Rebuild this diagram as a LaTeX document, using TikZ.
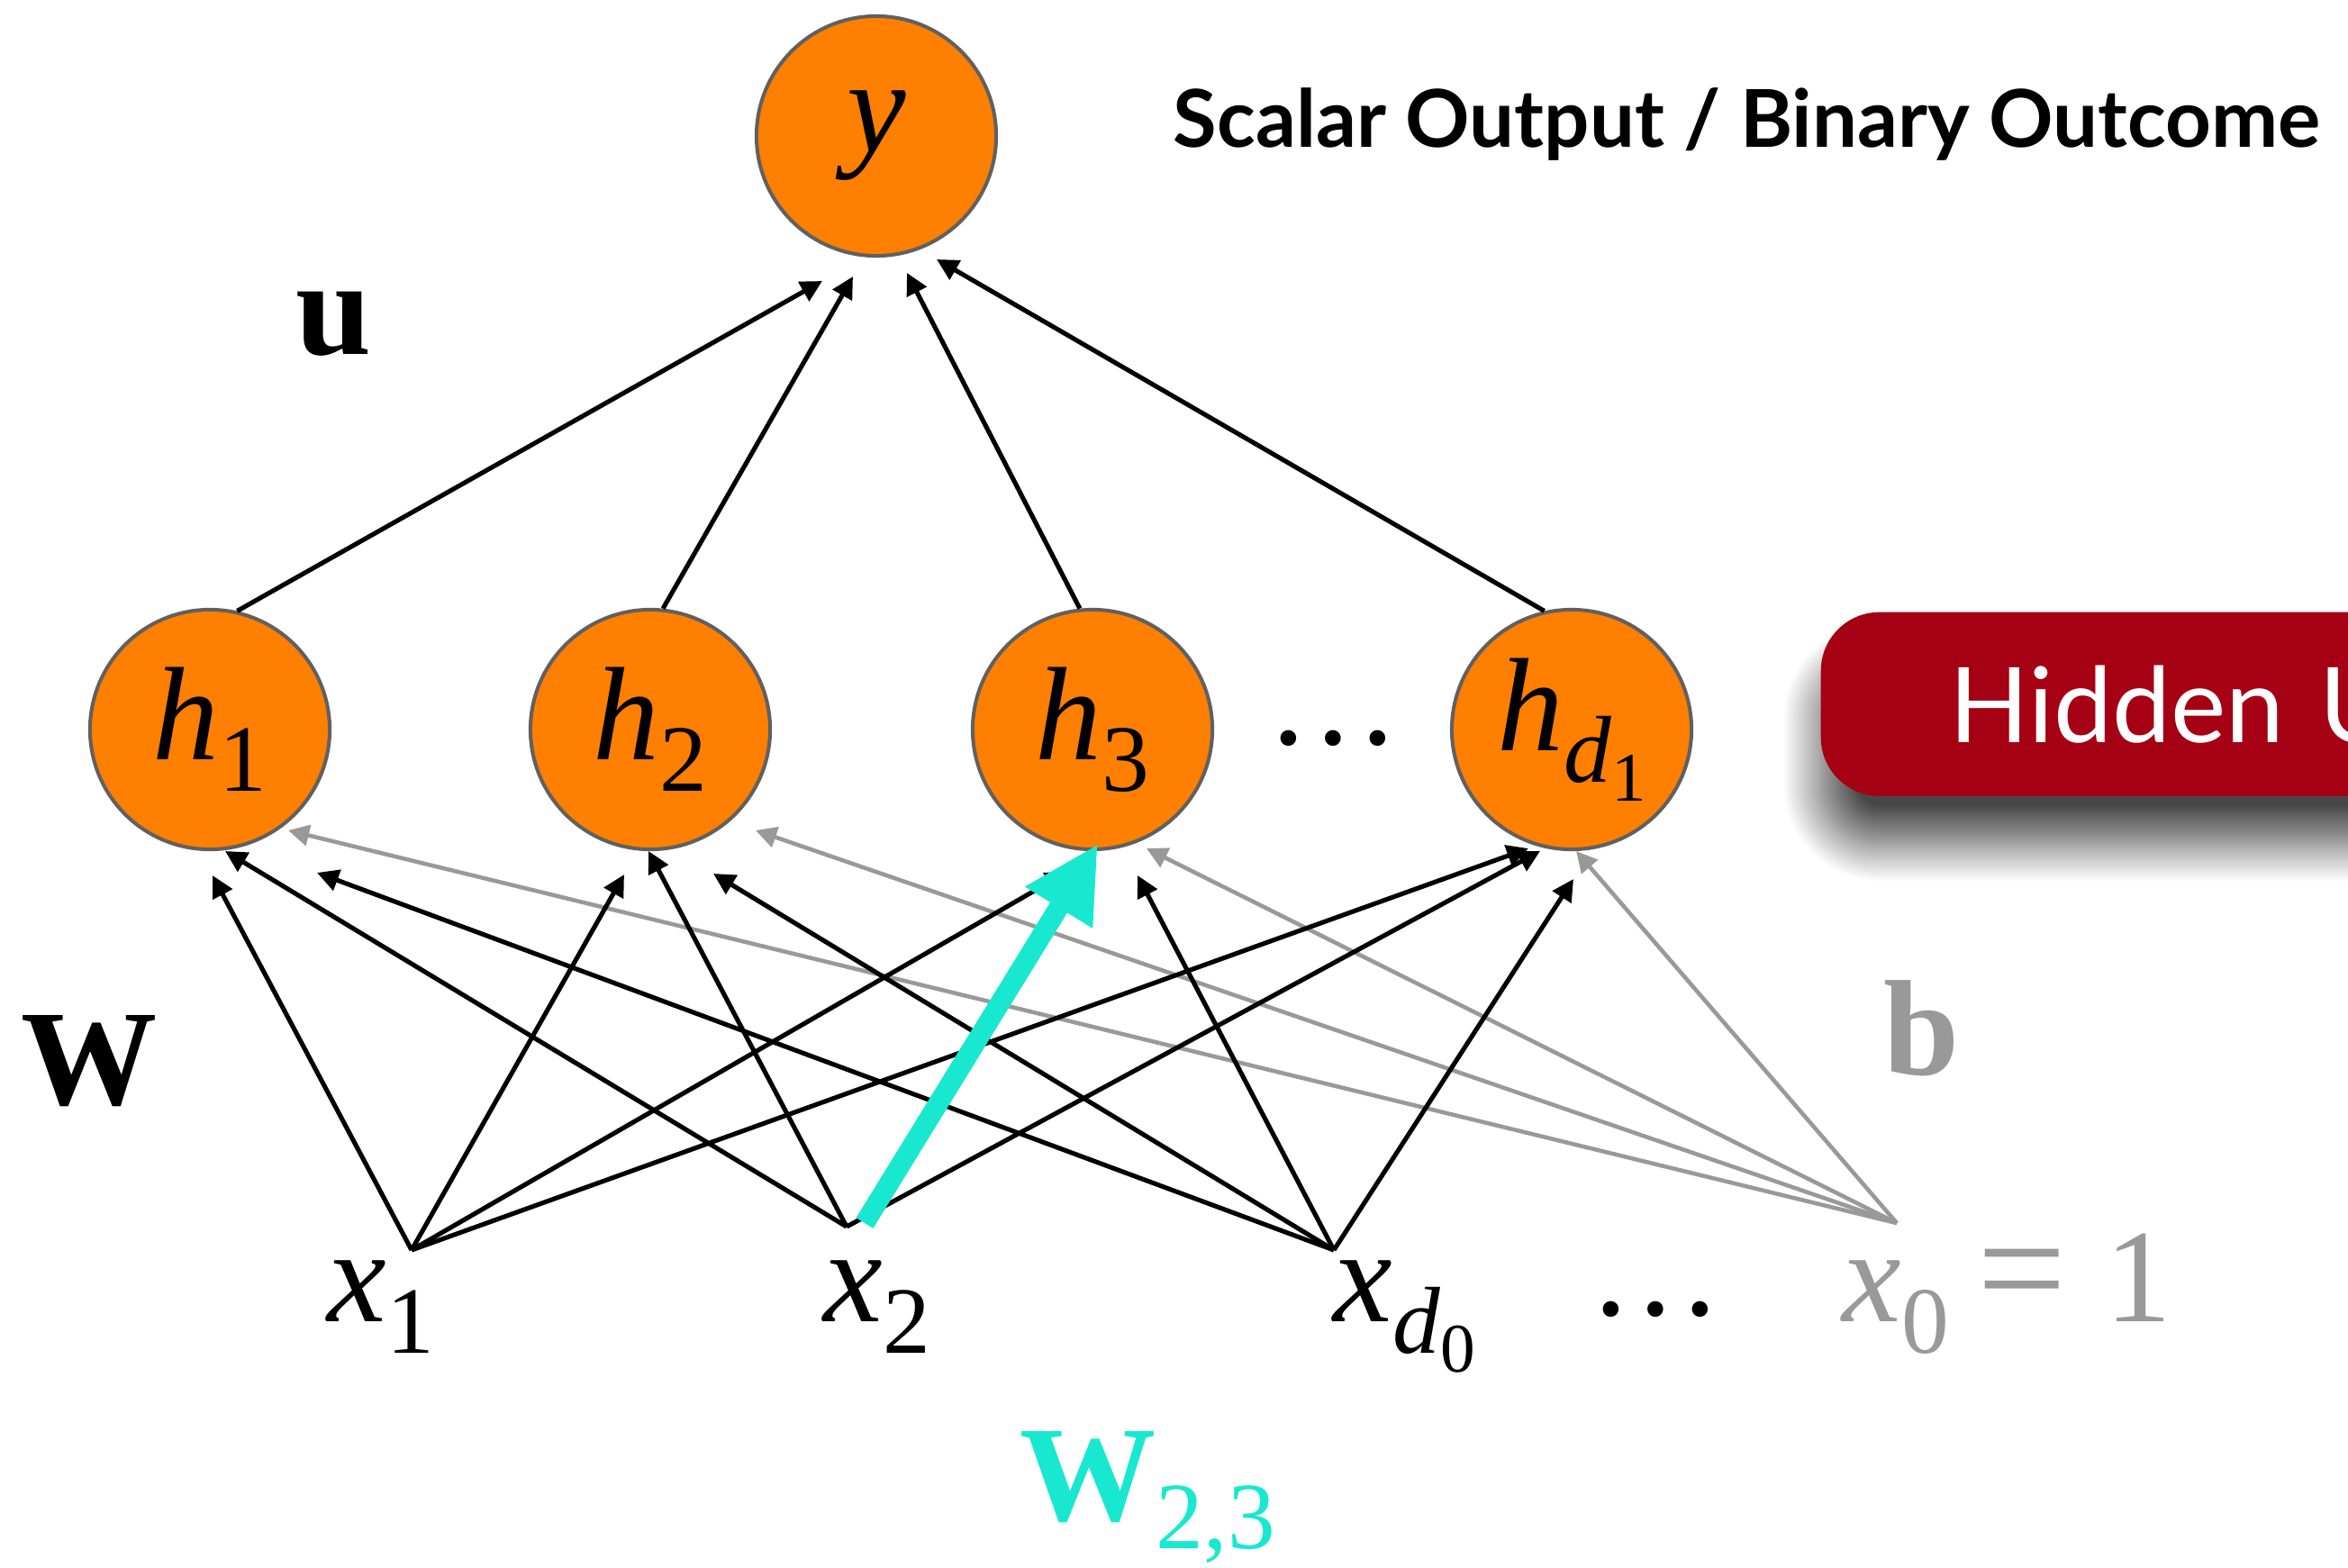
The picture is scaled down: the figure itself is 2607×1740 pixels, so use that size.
\documentclass[tikz,border=0pt]{standalone}
\usepackage{fontspec}
\setmainfont{Liberation Serif}
\newfontfamily\avenir{Lato}
\usetikzlibrary{calc,arrows.meta,shadows.blur}
\definecolor{nodeorange}{HTML}{FF7F00}
\definecolor{bordergray}{HTML}{606060}
\definecolor{biasgray}{HTML}{999999}
\definecolor{weightcyan}{HTML}{19E8D0}
\definecolor{boxred}{HTML}{A50013}
\newcommand\mylbl[2]{\textit{#1}\raisebox{-10pt}{\fontsize{30}{30}\selectfont #2}}
\newcommand\mylbldd[3]{\textit{#1}\raisebox{-10pt}{\fontsize{30}{30}\selectfont\textit{#2}\raisebox{-6pt}{\fontsize{22}{22}\selectfont #3}}}
\begin{document}
\begin{tikzpicture}[x=0.01cm,y=-0.01cm,
  neuron/.style={circle, fill=nodeorange, draw=bordergray, line width=1.15pt,
    minimum size=2.66cm, inner sep=0pt, font=\fontsize{42}{42}\selectfont},
  arr/.style={line width=1.45pt, -{Triangle[length=6.8pt,width=6.8pt]}},
  garr/.style={line width=1.3pt, draw=biasgray, -{Triangle[length=6.6pt,width=6.6pt]}},
  bigsym/.style={font=\fontsize{43}{43}\selectfont\bfseries, inner sep=0pt, anchor=base west},
  xlbl/.style={font=\fontsize{42}{42}\selectfont, inner sep=0pt, anchor=base west}
]
\useasboundingbox (0,0) rectangle (2607,1740);
\clip (0,0) rectangle (2607,1740);

% hidden units box (cut off by the right edge, as in the original)
\node (hidden) [fill=boxred, rounded corners=18.5pt, anchor=north west,
  minimum height=2.04cm, text width=9cm, inner xsep=1.43cm, inner ysep=0pt, align=left,
  text=white, font=\avenir\fontsize{33}{33}\selectfont,
  blur shadow={shadow xshift=0pt, shadow yshift=-15pt, shadow blur radius=12pt,
    shadow opacity=72, shadow blur steps=40}]
  at (2021,679) {Hidden Units};

% nodes
\node[neuron] (y) at (973,151) {\textit{y}\hspace{10pt}};
\node[neuron] (h1) at (233,810) {\mylbl{h}{1}};
\node[neuron] (h2) at (722,810) {\mylbl{h}{2}};
\node[neuron] (h3) at (1213,810) {\mylbl{h}{3}};
\node[neuron] (hd) at (1745,810) {\mylbldd{h}{d}{1}};
\node[font=\fontsize{42}{42}\selectfont, inner sep=0pt, anchor=base] (hdots) at (1480,826) {\textellipsis};

\coordinate (x1) at (457,1388);
\coordinate (x2) at (940,1362);
\coordinate (xd) at (1481,1388);
\coordinate (x0) at (2106,1358);

% labels
\node[xlbl] (lx1) at (363,1467) {\mylbl{x}{1}};
\node[xlbl] (lx2) at (914,1467) {\mylbl{x}{2}};
\node[xlbl] (lxd) at (1480,1467) {\mylbldd{x}{d}{0}};
\node[font=\fontsize{42}{42}\selectfont, inner sep=0pt, anchor=base] (xdots) at (1838,1460) {\textellipsis};
\node[xlbl, text=biasgray] (lx0) at (2045,1467) {\mylbl{x}{0}\hspace{9pt}{\fontsize{50}{50}\selectfont =}\hspace{12pt}1};

\node[bigsym] (lu) at (328,394) {u};
\node[bigsym] (lW) at (23,1226) {W};
\node[bigsym, text=biasgray] (lb) at (2091,1193) {b};
\node[bigsym, text=weightcyan] (lW23) at (1132,1688) {W\raisebox{-9pt}{\fontsize{30}{30}\selectfont\mdseries 2,3}};

\node[font=\avenir\bfseries\fontsize{25.2}{25.2}\selectfont, inner sep=0pt, anchor=base west] (title) at (1302,164) {Scalar Output / Binary Outcome};

% hidden -> output
\draw[arr] (h1.77) -- ($(y)+(-60,161)$);
\draw[arr] (h2.84) -- ($(y)+(-26,156)$);
\draw[arr] (h3.96) -- ($(y)+(34,152)$);
\draw[arr] (hd.103) -- ($(y)+(67,137)$);

% bias edges
\draw[garr] (x0) -- ($(h1)+(87,112)$);
\draw[garr] (x0) -- ($(h2)+(117,112)$);
\draw[garr] (x0) -- ($(h3)+(60,132)$);
\draw[garr] (x0) -- ($(hd)+(5,135)$);

% input -> hidden
\draw[arr] (x1) -- ($(h1)+(3,162)$);
\draw[arr] (x1) -- ($(h2)+(-29,161)$);
\draw[arr] (x1) -- ($(h3)+(-28,158)$);
\draw[arr] (x1) -- ($(hd)+(-48,132)$);

\draw[arr] (x2) -- ($(h1)+(17,135)$);
\draw[arr] (x2) -- ($(h2)+(-2,135)$);
\draw[arr] (x2) -- ($(hd)+(-35,135)$);

\draw[arr] (xd) -- ($(h1)+(119,159)$);
\draw[arr] (xd) -- ($(h2)+(70,160)$);
\draw[arr] (xd) -- ($(h3)+(50,162)$);
\draw[arr] (xd) -- ($(hd)+(2,166)$);

% highlighted weight
\draw[line width=6.3pt, weightcyan, -{Triangle[length=23.6pt,width=23.3pt]}]
  ($(x2)+(20,-4)$) -- ($(h3)+(6,127)$);
\end{tikzpicture}
\end{document}
